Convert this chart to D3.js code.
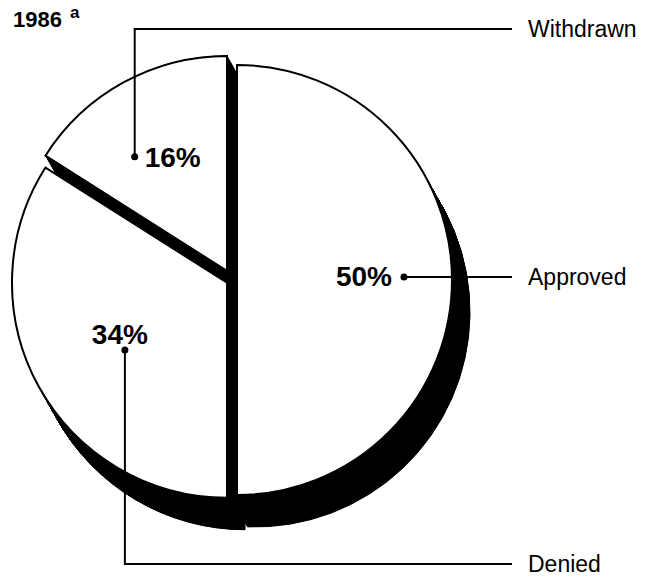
<!DOCTYPE html>
<html>
<head>
<meta charset="utf-8">
<script src="https://cdn.jsdelivr.net/npm/d3@7"></script>
<style>
  html, body { margin: 0; padding: 0; background: #fff; }
  svg { display: block; }
  text { font-family: "Liberation Sans", Arial, Helvetica, sans-serif; fill: #000; }
</style>
</head>
<body>
<script>
// Outcome of applications, 1986
const categories = ["Approved", "Denied", "Withdrawn"];
const shares = [50, 34, 16];
const shareLabels = ["50%", "34%", "16%"];
const yearLabel = "1986";
const noteMark = "a";

const W = 660, H = 581;
const svg = d3.select("body").append("svg")
  .attr("width", W).attr("height", H);

svg.append("rect").attr("width", W).attr("height", H).attr("fill", "#fff");

const data = categories.map((c, i) => ({ name: c, value: shares[i], label: shareLabels[i] }));

// Pie geometry
const cx = 232, cy = 280, R = 215;
const depth = [18, 32];              // direction/length of the solid extrusion
const explode = { Approved: 5, Denied: 5.7, Withdrawn: 10.4 };
const seam = { Approved: 0.035, Denied: 0, Withdrawn: 0 };   // closes the seam at the base

const pie = d3.pie().sort(null).value(d => d.value);
const arcs = pie(data);
const arcGen = d3.arc().innerRadius(0).outerRadius(R);

function offsetOf(a) {
  const mid = (a.startAngle + a.endAngle) / 2;
  const e = explode[a.data.name];
  return [Math.sin(mid) * e, -Math.cos(mid) * e];
}

const pieG = svg.append("g").attr("transform", `translate(${cx},${cy})`);

// Solid sides: sweep each slice along the depth vector
const steps = 48;
const sideG = pieG.append("g");
arcs.forEach(a => {
  const [ox, oy] = offsetOf(a);
  const wall = { startAngle: a.startAngle, endAngle: a.endAngle + seam[a.data.name] };
  const g = sideG.append("g").attr("transform", `translate(${ox},${oy})`);
  g.selectAll("path")
    .data(d3.range(steps + 1))
    .join("path")
    .attr("d", arcGen(wall))
    .attr("transform", t => `translate(${depth[0] * t / steps},${depth[1] * t / steps})`)
    .attr("fill", "#000")
    .attr("stroke", "#000")
    .attr("stroke-width", 1);
});

// Top faces
pieG.append("g").selectAll("path")
  .data(arcs)
  .join("path")
  .attr("transform", a => { const [ox, oy] = offsetOf(a); return `translate(${ox},${oy})`; })
  .attr("d", arcGen)
  .attr("fill", "#fff")
  .attr("stroke", "#000")
  .attr("stroke-width", 2)
  .attr("stroke-linejoin", "miter");

// Leader layout: anchor dot in polar coords (degrees clockwise from 12 o'clock),
// the y of the right-hand label, and where the value text sits relative to the dot.
const lineEndX = 512, nameX = 528;
const layout = {
  Approved:  { angle: 89.0,  r: 172, labelY: null, text: { dx: -12, dy: 9,  anchor: "end" } },
  Withdrawn: { angle: 321.7, r: 157, labelY: 29,   text: { dx: 10,  dy: 10, anchor: "start" } },
  Denied:    { angle: 236.8, r: 128, labelY: 564,  text: { dx: -5,  dy: -6, anchor: "middle" } }
};

const annG = svg.append("g");
arcs.forEach(a => {
  const L = layout[a.data.name];
  const th = L.angle * Math.PI / 180;
  const px = cx + Math.sin(th) * L.r;
  const py = cy - Math.cos(th) * L.r;
  const ly = L.labelY == null ? py : L.labelY;

  const pts = L.labelY == null
    ? [[px, py], [lineEndX, py]]
    : [[px, py], [px, ly], [lineEndX, ly]];

  annG.append("path")
    .attr("d", d3.line()(pts))
    .attr("fill", "none")
    .attr("stroke", "#000")
    .attr("stroke-width", 2)
    .attr("stroke-linejoin", "miter");

  annG.append("circle")
    .attr("cx", px).attr("cy", py).attr("r", 3.5)
    .attr("fill", "#000");

  annG.append("text")
    .attr("x", px + L.text.dx)
    .attr("y", py + L.text.dy)
    .attr("text-anchor", L.text.anchor)
    .attr("font-size", 28)
    .attr("font-weight", "bold")
    .text(a.data.label);

  annG.append("text")
    .attr("x", nameX)
    .attr("y", ly)
    .attr("dy", "0.35em")
    .attr("font-size", 23)
    .text(a.data.name);
});

// Year heading with note mark
const head = svg.append("text")
  .attr("x", 13).attr("y", 27)
  .attr("font-size", 22)
  .attr("font-weight", "bold");
head.append("tspan").text(yearLabel);
head.append("tspan")
  .attr("dx", 8).attr("dy", -9)
  .attr("font-size", 17)
  .text(noteMark);
</script>
</body>
</html>
